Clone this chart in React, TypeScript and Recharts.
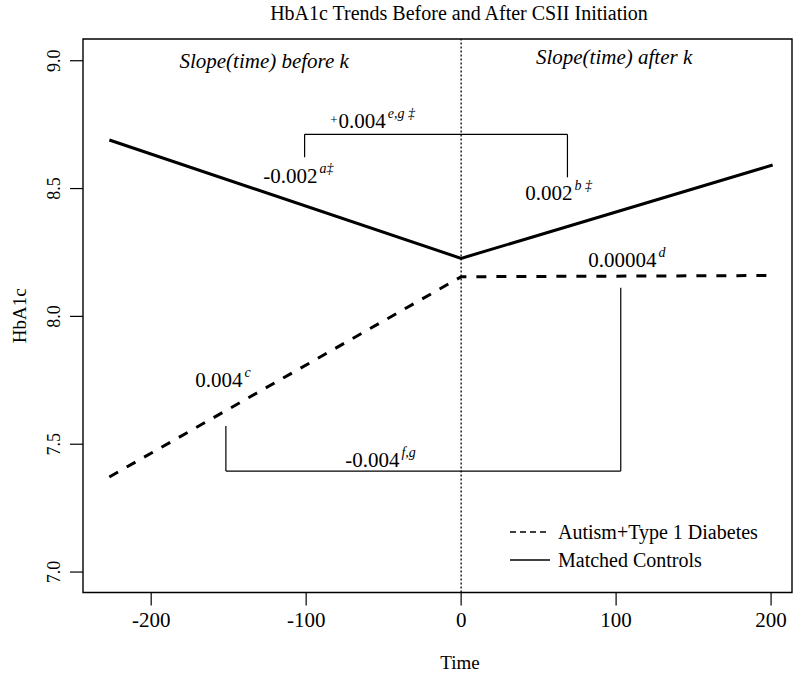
import React from "react";
import {
  LineChart,
  Line,
  XAxis,
  YAxis,
  ReferenceLine,
  ReferenceArea,
  ReferenceDot,
  Label,
} from "recharts";

const FONT = "'Liberation Serif', 'Times New Roman', Times, serif";

// ---- data ----
const autismTime = [-227, 0, 201];
const autismHbA1c = [7.372, 8.155, 8.16];
const controlTime = [-227, 0, 201];
const controlHbA1c = [8.69, 8.227, 8.592];

const xTicks = [-200, -100, 0, 100, 200];
const yTicks = [7.0, 7.5, 8.0, 8.5, 9.0];

const seriesNames = ["Autism+Type 1 Diabetes", "Matched Controls"];

const titleText = "HbA1c Trends Before and After CSII Initiation";
const xLabel = "Time";
const yLabel = "HbA1c";

// slope annotations (anchor = start of text, baseline, in data units)
const annoPrefix = ["+", "", "", "", "", ""];
const annoMain = ["0.004", "-0.002", "0.002", "0.00004", "0.004", "-0.004"];
const annoSup = ["e,g \u2021", "a\u2021", "b \u2021", "d", "c", "f,g"];
const annoX = [-84.5, -127.7, 41.3, 82, -171.6, -74.8];
const annoY = [8.737, 8.522, 8.455, 8.193, 7.724, 7.411];

// section headings
const headingText = ["Slope(time) before k", "Slope(time) after k"];
const headingX = [-127.1, 98.7];
const headingY = [8.971, 8.987];

// comparison brackets: [x1, y1, x2, y2]
const bracketSegments = [
  [-101, 8.712, 68.6, 8.712],
  [-101, 8.712, -101, 8.622],
  [68.6, 8.712, 68.6, 8.544],
  [-151.8, 7.395, 103, 7.395],
  [-151.8, 7.395, -151.8, 7.571],
  [103, 7.395, 103, 8.112],
];

const X_DOMAIN: [number, number] = [-244, 213.5];
const Y_DOMAIN: [number, number] = [6.92, 9.085];

const XTick = (p: any) => (
  <text
    x={p.x}
    y={p.y}
    dy={21}
    textAnchor="middle"
    fontSize={21}
    fontFamily={FONT}
    fill="#000"
  >
    {String(p.payload.value)}
  </text>
);

const YTick = (p: any) => {
  const bx = p.x - 10;
  return (
    <text
      x={bx}
      y={p.y}
      transform={`rotate(-90 ${bx} ${p.y})`}
      textAnchor="middle"
      fontSize={18}
      fontFamily={FONT}
      fill="#000"
    >
      {Number(p.payload.value).toFixed(1)}
    </text>
  );
};

const makeAnno = (i: number) => (props: any) => {
  const hasPrefix = annoPrefix[i] !== "";
  return (
    <text x={props.cx} y={props.cy} fontFamily={FONT} fontSize={21} fill="#000">
      {hasPrefix && (
        <tspan fontSize={13} dy={-4}>
          {annoPrefix[i]}
        </tspan>
      )}
      <tspan dy={hasPrefix ? 4 : 0} dx={hasPrefix ? 1 : 0}>
        {annoMain[i]}
      </tspan>
      <tspan fontSize={14} fontStyle="italic" dx={2} dy={-10}>
        {annoSup[i]}
      </tspan>
    </text>
  );
};

const makeHeading = (i: number) => (props: any) => (
  <text
    x={props.cx}
    y={props.cy}
    textAnchor="middle"
    fontFamily={FONT}
    fontSize={21}
    fontStyle="italic"
    fill="#000"
  >
    {headingText[i]}
  </text>
);

export default function App() {
  const autism = autismTime.map((t, i) => ({ t, v: autismHbA1c[i] }));
  const controls = controlTime.map((t, i) => ({ t, v: controlHbA1c[i] }));

  return (
    <div style={{ position: "absolute", left: 0, top: 0, width: 800, height: 680, fontFamily: FONT }}>
      <LineChart
        width={800}
        height={680}
        margin={{ top: 39, right: 8, bottom: 27.5, left: 0 }}
      >
        <XAxis
          type="number"
          dataKey="t"
          domain={X_DOMAIN}
          allowDataOverflow
          ticks={xTicks}
          interval={0}
          tick={<XTick />}
          tickSize={13}
          tickMargin={0}
          tickLine={{ stroke: "#000", strokeWidth: 1.2 }}
          axisLine={false}
          height={60}
        >
          <Label
            content={() => (
              <g>
                <text x={460} y={669} textAnchor="middle" fontFamily={FONT} fontSize={19} fill="#000">
                  {xLabel}
                </text>
                <text x={459} y={19.5} textAnchor="middle" fontFamily={FONT} fontSize={20} fill="#000">
                  {titleText}
                </text>
              </g>
            )}
          />
        </XAxis>
        <YAxis
          type="number"
          dataKey="v"
          domain={Y_DOMAIN}
          allowDataOverflow
          ticks={yTicks}
          interval={0}
          tick={<YTick />}
          tickSize={13}
          tickMargin={0}
          tickLine={{ stroke: "#000", strokeWidth: 1.2 }}
          axisLine={false}
          width={83}
        >
          <Label
            content={() => (
              <text
                x={26}
                y={315.75}
                transform="rotate(-90 26 315.75)"
                textAnchor="middle"
                fontFamily={FONT}
                fontSize={19}
                fill="#000"
              >
                {yLabel}
              </text>
            )}
          />
        </YAxis>

        <ReferenceArea
          x1={X_DOMAIN[0]}
          x2={X_DOMAIN[1]}
          y1={Y_DOMAIN[0]}
          y2={Y_DOMAIN[1]}
          fill="none"
          fillOpacity={0}
          stroke="#000"
          strokeWidth={1.4}
          ifOverflow="visible"
        />
        <ReferenceLine x={0} stroke="#000" strokeDasharray="2 2" strokeWidth={1.3} />

        {bracketSegments.map((s, i) => (
          <ReferenceLine
            key={"b" + i}
            segment={[
              { x: s[0], y: s[1] },
              { x: s[2], y: s[3] },
            ]}
            stroke="#000"
            strokeWidth={1.2}
            ifOverflow="visible"
          />
        ))}

        <Line
          data={controls}
          dataKey="v"
          name={seriesNames[1]}
          type="linear"
          stroke="#000"
          strokeWidth={3}
          dot={false}
          activeDot={false}
          isAnimationActive={false}
        />
        <Line
          data={autism}
          dataKey="v"
          name={seriesNames[0]}
          type="linear"
          stroke="#000"
          strokeWidth={3}
          strokeDasharray="10 10"
          dot={false}
          activeDot={false}
          isAnimationActive={false}
        />

        {annoMain.map((_, i) => (
          <ReferenceDot
            key={"a" + i}
            x={annoX[i]}
            y={annoY[i]}
            r={0}
            ifOverflow="visible"
            shape={makeAnno(i)}
          />
        ))}
        {headingText.map((_, i) => (
          <ReferenceDot
            key={"h" + i}
            x={headingX[i]}
            y={headingY[i]}
            r={0}
            ifOverflow="visible"
            shape={makeHeading(i)}
          />
        ))}
      </LineChart>

      <div style={{ position: "absolute", left: 510, top: 517.5, fontFamily: FONT, color: "#000" }}>
        {seriesNames.map((n, i) => (
          <div key={n} style={{ display: "flex", alignItems: "center", height: 28.3 }}>
            <svg width={40} height={28} style={{ display: "block" }}>
              <line
                x1={0}
                x2={40}
                y1={14}
                y2={14}
                stroke="#000"
                strokeWidth={1.5}
                strokeDasharray={i === 0 ? "6 4" : undefined}
              />
            </svg>
            <span style={{ marginLeft: 8, fontSize: 20, lineHeight: "28.3px", whiteSpace: "nowrap" }}>{n}</span>
          </div>
        ))}
      </div>
    </div>
  );
}
